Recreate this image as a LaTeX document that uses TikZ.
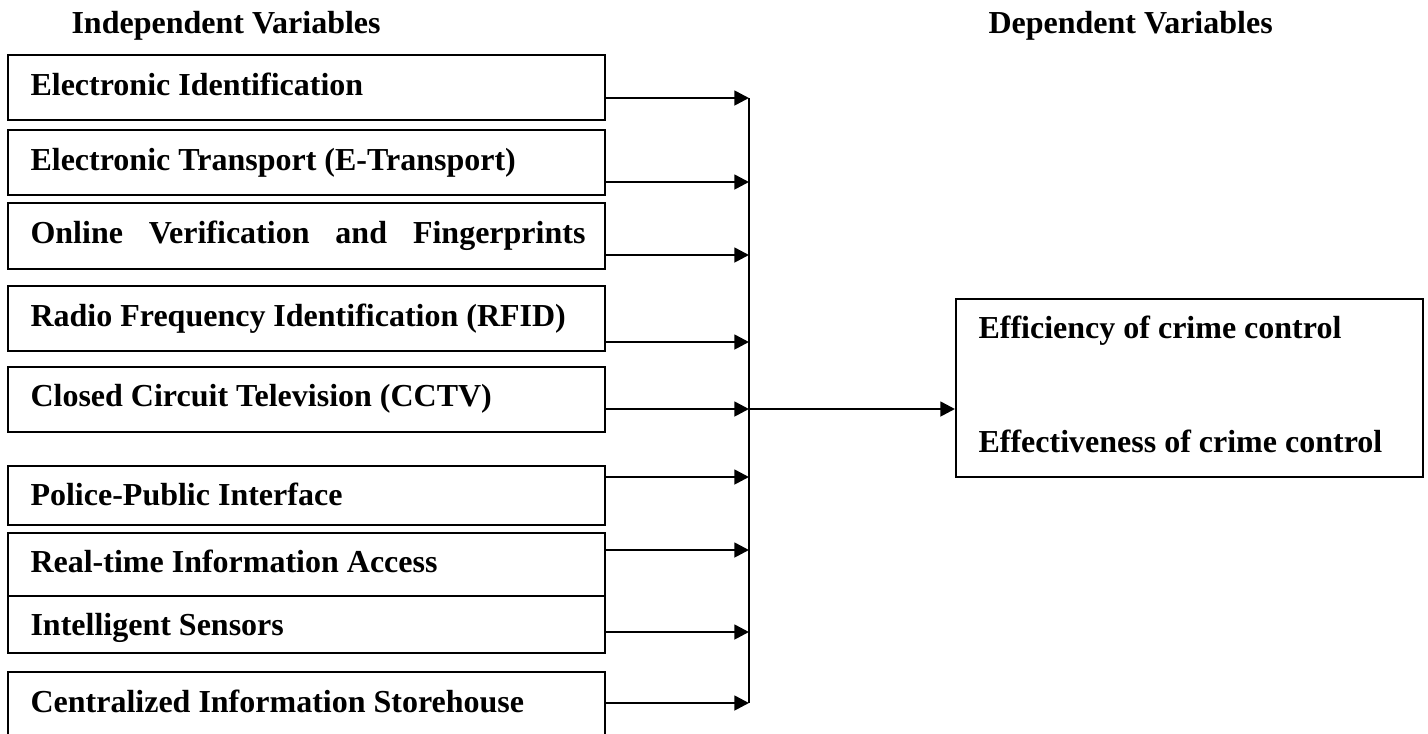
\documentclass[tikz,border=0pt,12pt]{standalone}
\usepackage{fontspec}
\setmainfont{Liberation Serif}
\usetikzlibrary{arrows.meta,fit}
\tikzset{
  varbox/.style={draw,line width=0.75pt,inner sep=0pt},
  vartext/.style={anchor=base west,inner sep=0pt,font=\bfseries},
  feed/.style={line width=1pt,-{Triangle[length=5.5pt,width=5.5pt]}},
  bus/.style={line width=0.55pt}
}
\begin{document}
\begin{tikzpicture}[x=0.375pt,y=-0.375pt]
\useasboundingbox (0,0) rectangle (1428,733);
\path (71,33) node[vartext](indep){Independent Variables} (988,33) node[vartext](dep){Dependent Variables};
% independent variables, one box each
\foreach \i/\ya/\yb/\ys/\yj/\txt in {1/55/120/95/98/Electronic Identification,2/130/195/170/182/Electronic Transport (E-Transport),3/203/269/243/255/{\makebox[208.1pt][s]{Online Verification and Fingerprints}},4/286/351/326/342/Radio Frequency Identification (RFID),5/367/432/406/409/Closed Circuit Television (CCTV),6/466/525/505/477/Police-Public Interface,7/533/596/572/550/Real-time Information Access,8/596/653/635/632/Intelligent Sensors,9/672/745/712/703/Centralized Information Storehouse}{
  \node[varbox,fit={(8,\ya)(605,\yb)}](b\i){};
  \node[vartext] (t\i) at (30,\ys) {\txt};
  \coordinate (j\i) at (749,\yj);
  \draw[feed] (b\i.east |- j\i)--(j\i);
}
\node[varbox,fit={(956,299)(1423,477)}](dv){};
\path (978,338) node[vartext](eff){Efficiency of crime control} (978,452) node[vartext](effv){Effectiveness of crime control};
\draw[bus] (j1)--(j9);
\draw[feed] (j5)--(dv.west |- j5);
\end{tikzpicture}
\end{document}
